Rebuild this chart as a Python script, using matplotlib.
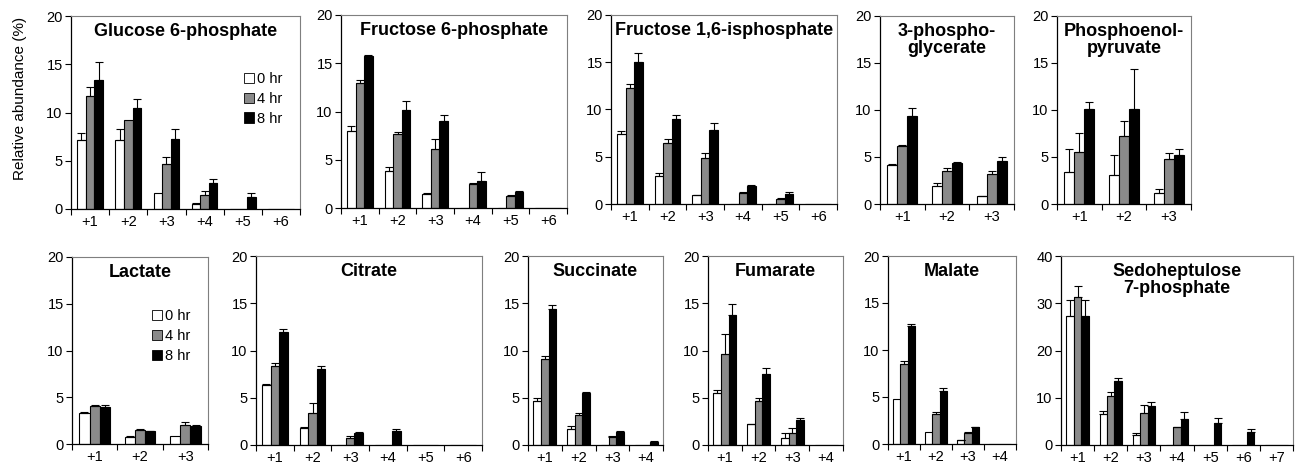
import matplotlib
matplotlib.use('Agg')
import matplotlib.pyplot as plt
from matplotlib.patches import Patch

plt.rcParams['font.family'] = ['Liberation Sans', 'DejaVu Sans']

hours = ['0 hr', '4 hr', '8 hr']
colors = ['white', '#8a8a8a', 'black']

# mean values per time point (0, 4, 8 hr) and upper error
g6p_mean = [[7.2, 7.1, 1.7, 0.5, 0, 0], [11.7, 9.2, 4.7, 1.4, 0, 0], [13.4, 10.5, 7.3, 2.7, 1.2, 0]]
g6p_err = [[0.7, 1.2, 0, 0.1, 0, 0], [0.9, 0, 0.7, 0.5, 0, 0], [1.8, 0.9, 1.0, 0.4, 0.5, 0]]
f6p_mean = [[8.0, 3.8, 1.4, 0, 0, 0], [13.0, 7.7, 6.1, 2.5, 1.2, 0], [15.8, 10.2, 9.0, 2.8, 1.7, 0]]
f6p_err = [[0.5, 0.4, 0.2, 0, 0, 0], [0.3, 0.2, 1.0, 0.05, 0.1, 0], [0.1, 0.9, 0.6, 0.9, 0.05, 0]]
fbp_mean = [[7.4, 3.0, 0.9, 0, 0, 0], [12.3, 6.5, 4.9, 1.2, 0.55, 0], [15.0, 9.0, 7.8, 1.9, 1.1, 0]]
fbp_err = [[0.3, 0.25, 0.1, 0, 0, 0], [0.45, 0.35, 0.45, 0.1, 0.05, 0], [0.95, 0.4, 0.75, 0.1, 0.15, 0]]
pg3_mean = [[4.2, 1.95, 0.8], [6.2, 3.5, 3.2], [9.35, 4.4, 4.6]]
pg3_err = [[0.1, 0.25, 0.05], [0.1, 0.35, 0.3], [0.85, 0.05, 0.4]]
pep_mean = [[3.4, 3.05, 1.15], [5.55, 7.25, 4.8], [10.15, 10.15, 5.2]]
pep_err = [[2.4, 2.15, 0.45], [2.05, 1.55, 0.6], [0.65, 4.2, 0.6]]
lac_mean = [[3.3, 0.75, 0.85], [4.05, 1.55, 2.0], [4.0, 1.35, 1.9]]
lac_err = [[0.1, 0.1, 0], [0.1, 0.05, 0.4], [0.15, 0.05, 0.15]]
cit_mean = [[6.4, 1.8, 0, 0, 0, 0], [8.35, 3.35, 0.75, 0, 0, 0], [11.95, 8.05, 1.25, 1.5, 0, 0]]
cit_err = [[0.05, 0.08, 0, 0, 0, 0], [0.35, 1.05, 0.2, 0, 0, 0], [0.3, 0.3, 0.1, 0.15, 0, 0]]
suc_mean = [[4.7, 1.65, 0, 0], [9.15, 3.15, 0.85, 0], [14.35, 5.45, 1.4, 0.3]]
suc_err = [[0.3, 0.35, 0, 0], [0.25, 0.2, 0.05, 0], [0.5, 0.2, 0.05, 0.15]]
fum_mean = [[5.5, 2.2, 0.75, 0], [9.6, 4.65, 1.25, 0], [13.8, 7.5, 2.6, 0]]
fum_err = [[0.35, 0.05, 0.5, 0], [2.1, 0.35, 0.5, 0], [1.15, 0.65, 0.25, 0]]
mal_mean = [[4.75, 1.25, 0.4, 0], [8.5, 3.2, 1.2, 0], [12.55, 5.6, 1.8, 0]]
mal_err = [[0, 0, 0.05, 0], [0.35, 0.25, 0.05, 0], [0.25, 0.35, 0.05, 0]]
s7p_mean = [[27.3, 6.5, 2.1, 0, 0, 0, 0], [31.4, 10.4, 6.85, 3.75, 0, 0, 0], [27.2, 13.5, 8.3, 5.4, 4.7, 2.7, 0]]
s7p_err = [[3.3, 0.7, 0.4, 0, 0, 0, 0], [2.3, 0.9, 1.6, 0.15, 0, 0, 0], [3.5, 0.6, 0.9, 1.6, 1.1, 0.65, 0]]

panels = [
    ('Glucose 6-phosphate', g6p_mean, g6p_err, 20, (71, 16, 300, 209), (0.755, 0.71)),
    ('Fructose 6-phosphate', f6p_mean, f6p_err, 20, (341, 15, 567, 208), None),
    ('Fructose 1,6-isphosphate', fbp_mean, fbp_err, 20, (611, 15, 837, 204), None),
    ('3-phospho-\nglycerate', pg3_mean, pg3_err, 20, (880, 16, 1014, 204), None),
    ('Phosphoenol-\npyruvate', pep_mean, pep_err, 20, (1057, 16, 1191, 204), None),
    ('Lactate', lac_mean, lac_err, 20, (72, 257, 208, 444), (0.59, 0.72)),
    ('Citrate', cit_mean, cit_err, 20, (256, 256, 482, 445), None),
    ('Succinate', suc_mean, suc_err, 20, (528, 256, 663, 445), None),
    ('Fumarate', fum_mean, fum_err, 20, (708, 256, 843, 445), None),
    ('Malate', mal_mean, mal_err, 20, (888, 256, 1016, 444), None),
    ('Sedoheptulose\n7-phosphate', s7p_mean, s7p_err, 40, (1061, 256, 1293, 445), None),
]

W, H = 1299, 470
fig = plt.figure(figsize=(W / 100, H / 100), dpi=100)

bw = 0.225
for title, means, errs, ymax, box, leg in panels:
    l, t, r, b = box
    ax = fig.add_axes([l / W, 1 - b / H, (r - l) / W, (b - t) / H])
    n = len(means[0])
    xs = list(range(1, n + 1))
    for k in range(3):
        pos = [x + (k - 1) * bw for x in xs]
        ax.bar(pos, means[k], width=bw, color=colors[k], edgecolor='black', linewidth=0.8, zorder=2)
        ex = [p for p, e in zip(pos, errs[k]) if e > 0]
        ey = [m for m, e in zip(means[k], errs[k]) if e > 0]
        ee = [e for e in errs[k] if e > 0]
        if ex:
            ax.errorbar(ex, ey, yerr=[[0] * len(ee), ee], fmt='none', ecolor='black',
                        elinewidth=0.8, capsize=3, capthick=0.8, zorder=3)
    ax.set_xlim(0.5, n + 0.5)
    ax.set_ylim(0, ymax)
    ax.set_yticks(range(0, ymax + 1, ymax // 4))
    ax.set_xticks([i + 0.5 for i in range(n + 1)])
    ax.set_xticklabels([])
    ax.set_xticks(xs, minor=True)
    ax.set_xticklabels(['+%d' % i for i in xs], minor=True)
    ax.tick_params(axis='x', which='major', direction='out', length=4, width=0.8)
    ax.tick_params(axis='x', which='minor', length=0, pad=4, labelsize=10.5)
    ax.tick_params(axis='y', direction='out', length=4, width=0.8, labelsize=10.5, pad=2)
    for s in ['top', 'right']:
        ax.spines[s].set_color('#7f7f7f')
        ax.spines[s].set_linewidth(0.8)
    for s in ['left', 'bottom']:
        ax.spines[s].set_linewidth(0.9)
    ax.annotate(title, xy=(0.5, 1), xycoords='axes fraction', xytext=(0, -5),
                textcoords='offset points', ha='center', va='top',
                fontsize=13, fontweight='bold', linespacing=1.0)
    if leg is not None:
        handles = [Patch(facecolor=c, edgecolor='black', linewidth=0.6) for c in colors]
        ax.legend(handles, hours, loc='upper left', bbox_to_anchor=leg, frameon=False,
                  fontsize=10.5, handlelength=0.7, handleheight=0.7, handletextpad=0.2,
                  labelspacing=0.4, borderpad=0, borderaxespad=0)

fig.text(20 / W, 1 - 98 / H, 'Relative abundance (%)', rotation=90,
         ha='center', va='center', fontsize=11)

fig.savefig('out.png', dpi=100)
